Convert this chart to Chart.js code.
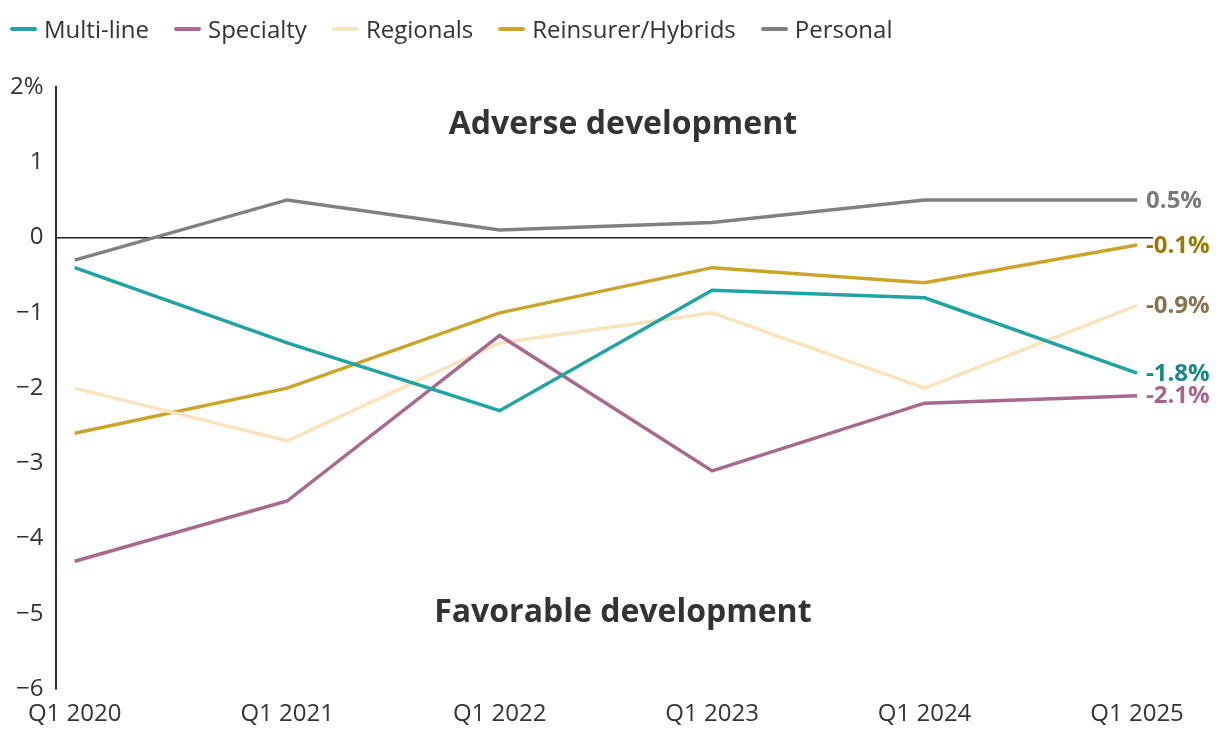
<!DOCTYPE html>
<html>
<head>
<meta charset="utf-8">
<script src="https://cdn.jsdelivr.net/npm/chart.js@4.4.1/dist/chart.umd.min.js"></script>
<style>
  html, body { margin: 0; padding: 0; background: #fff; }
  #wrap { width: 1220px; height: 744px; position: relative; }
  #legend {
    position: absolute; left: 10px; top: 12px;
    display: flex; gap: 25px;
    font: 24px 'Open Sans', 'Noto Sans', sans-serif; color: #333;
  }
  #legend span { display: flex; align-items: center; }
  #legend i { display: inline-block; width: 27px; height: 4px; border-radius: 2px; margin-right: 7px; }
</style>
</head>
<body>
<div id="wrap"><canvas id="c"></canvas><div id="legend"></div></div>
<script>
// Trimestres (eje X)
const quarters = ['Q1 2020', 'Q1 2021', 'Q1 2022', 'Q1 2023', 'Q1 2024', 'Q1 2025'];

// Desarrollo de reservas por grupo, en %
const multiLine  = [-0.4, -1.4, -2.3, -0.7, -0.8, -1.8];
const specialty  = [-4.3, -3.5, -1.3, -3.1, -2.2, -2.1];
const regionals  = [-2.0, -2.7, -1.4, -1.0, -2.0, -0.9];
const reinsurer  = [-2.6, -2.0, -1.0, -0.4, -0.6, -0.1];
const personal   = [-0.3, 0.5, 0.1, 0.2, 0.5, 0.5];

const yTicks = [2, 1, 0, -1, -2, -3, -4, -5, -6];

const FONT = "'Open Sans', 'Noto Sans', sans-serif";
const TEXT = '#333333';

const series = [
  { label: 'Multi-line',        data: multiLine, color: '#1fa3a3', tag: '#16898a' },
  { label: 'Specialty',         data: specialty, color: '#a8688f', tag: '#a8648e' },
  { label: 'Regionals',         data: regionals, color: '#fbe4bd', tag: '#86724f' },
  { label: 'Reinsurer/Hybrids', data: reinsurer, color: '#cba52a', tag: '#9a7a00' },
  { label: 'Personal',          data: personal,  color: '#808080', tag: '#7a7a7a' },
];

// leyenda en HTML para controlar el espaciado
document.getElementById('legend').innerHTML = series
  .map((s) => `<span><i style="background:${s.color}"></i>${s.label}</span>`)
  .join('');

// Etiqueta del último valor a la derecha de cada línea + textos de zona
const endLabels = {
  id: 'endLabels',
  afterDatasetsDraw(chart) {
    const { ctx, scales: { x, y } } = chart;
    ctx.save();
    ctx.font = `bold 24px ${FONT}`;
    ctx.textBaseline = 'middle';
    ctx.textAlign = 'left';
    chart.data.datasets.forEach((ds) => {
      const last = ds.data[ds.data.length - 1];
      const v = last.y;
      ctx.fillStyle = ds.tagColor;
      ctx.fillText(`${v.toFixed(1)}%`, x.getPixelForValue(last.x) + 9, y.getPixelForValue(v) + 1);
    });

    ctx.font = `bold 32px ${FONT}`;
    ctx.fillStyle = TEXT;
    ctx.textAlign = 'center';
    ctx.fillText('Adverse development', x.getPixelForValue(2.58), y.getPixelForValue(1.5));
    ctx.fillText('Favorable development', x.getPixelForValue(2.58), y.getPixelForValue(-4.98));
    ctx.restore();
  },
};

new Chart(document.getElementById('c'), {
  type: 'line',
  data: {
    datasets: series.map((s) => ({
      label: s.label,
      data: s.data.map((v, i) => ({ x: i, y: v })),
      borderColor: s.color,
      backgroundColor: s.color,
      tagColor: s.tag,
      borderWidth: 3.5,
      pointRadius: 0,
      tension: 0,
    })),
  },
  options: {
    responsive: true,
    maintainAspectRatio: false,
    animation: false,
    layout: { padding: { left: -2, right: 67, top: 87, bottom: 4 } },
    plugins: {
      legend: { display: false },
      tooltip: { enabled: false },
    },
    scales: {
      x: {
        type: 'linear',
        min: -0.09,
        max: 5.075,
        afterBuildTicks: (scale) => { scale.ticks = quarters.map((_, i) => ({ value: i })); },
        border: { display: false },
        grid: { display: false, drawTicks: false },
        ticks: {
          color: TEXT,
          padding: 11,
          maxRotation: 0,
          autoSkip: false,
          font: { family: FONT, size: 24 },
          callback: (v) => quarters[v] ?? '',
        },
      },
      y: {
        min: -6,
        max: 2,
        afterBuildTicks: (scale) => { scale.ticks = yTicks.map((v) => ({ value: v })); },
        border: { display: true, color: '#2b2b2b', width: 2 },
        grid: {
          drawTicks: false,
          color: (c) => (c.tick && c.tick.value === 0 ? '#222222' : 'rgba(0,0,0,0)'),
          lineWidth: 1.5,
        },
        ticks: {
          color: TEXT,
          padding: 12,
          font: { family: FONT, size: 24 },
          callback: (v) => (v === 2 ? '2%' : v < 0 ? `\u2212${Math.abs(v)}` : `${v}`),
        },
      },
    },
  },
  plugins: [endLabels],
});
</script>
</body>
</html>
